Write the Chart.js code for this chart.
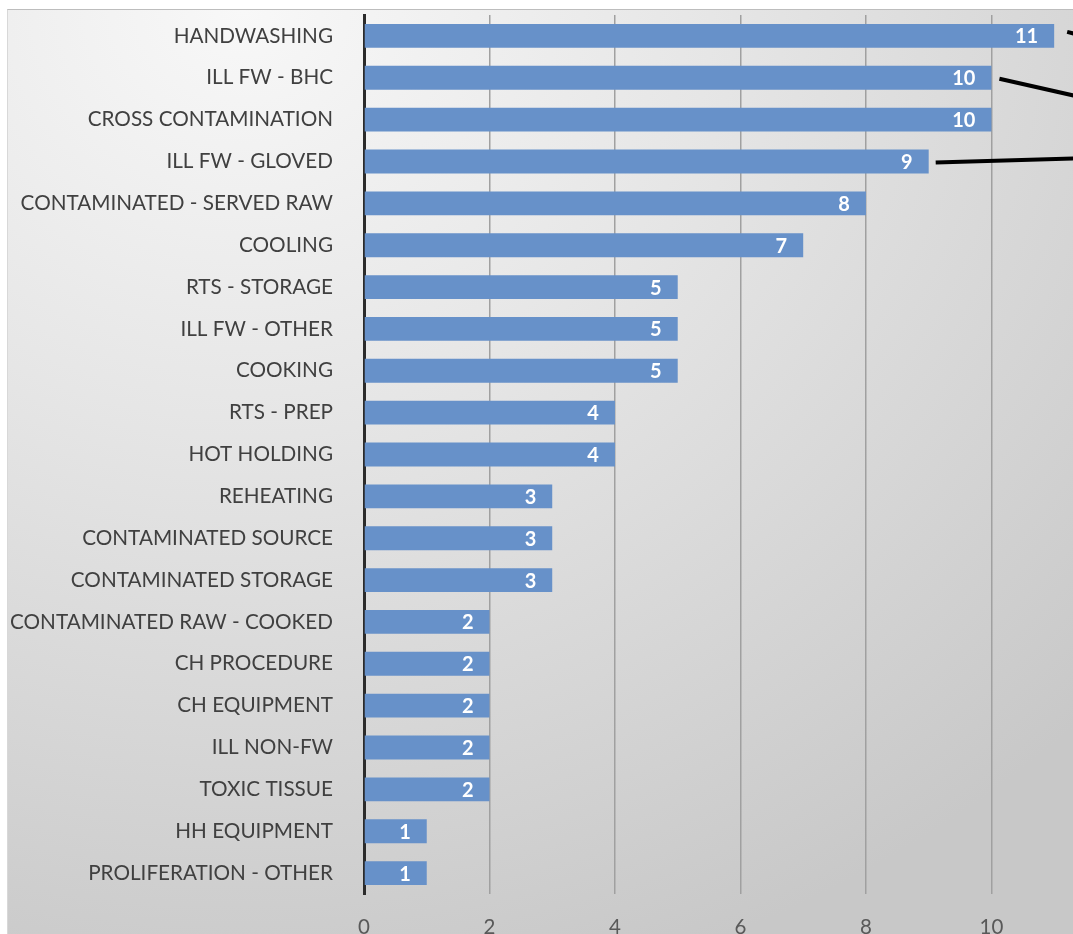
<!DOCTYPE html>
<html>
<head>
<meta charset="utf-8">
<script src="https://cdn.jsdelivr.net/npm/chart.js@4/dist/chart.umd.min.js"></script>
<style>
  html, body { margin: 0; padding: 0; background: #ffffff; width: 1073px; height: 934px; overflow: hidden; }
  #panel {
    position: absolute; left: 7px; top: 9px; width: 1066px; height: 925px;
    border-top: 1px solid #bdbdbd; border-left: 1px solid #d8d8d8;
    background: radial-gradient(ellipse 110% 110% at 22% 0%, #f8f8f8 0%, #e6e6e6 40%, #c8c8c8 100%);
  }
  #wrap { position: absolute; left: 0; top: 0; width: 1073px; height: 934px; }
</style>
</head>
<body>
<div id="panel"></div>
<div id="wrap"><canvas id="c"></canvas></div>
<script>
const categories = [
  "HANDWASHING", "ILL FW - BHC", "CROSS CONTAMINATION", "ILL FW - GLOVED",
  "CONTAMINATED - SERVED RAW", "COOLING", "RTS - STORAGE", "ILL FW - OTHER",
  "COOKING", "RTS - PREP", "HOT HOLDING", "REHEATING", "CONTAMINATED SOURCE",
  "CONTAMINATED STORAGE", "CONTAMINATED RAW - COOKED", "CH PROCEDURE",
  "CH EQUIPMENT", "ILL NON-FW", "TOXIC TISSUE", "HH EQUIPMENT", "PROLIFERATION - OTHER"
];
const counts = [11, 10, 10, 9, 8, 7, 5, 5, 5, 4, 4, 3, 3, 3, 2, 2, 2, 2, 2, 1, 1];
const xTickValues = [0, 2, 4, 6, 8, 10];

// connector lines that leave the picture on the right: bar index, start gap, start dy, end dy
const connectorBars = [0, 1, 3];
const connectorShape = [[13, -4, -2], [8, 1, 18], [7, 1, -3]];

Chart.defaults.font.family = "Lato, 'Open Sans', sans-serif";

const valueLabels = {
  id: 'valueLabels',
  afterDatasetsDraw(chart) {
    const ctx = chart.ctx;
    const meta = chart.getDatasetMeta(0);
    ctx.save();
    ctx.font = "bold 20px Lato, sans-serif";
    ctx.fillStyle = '#ffffff';
    ctx.textAlign = 'right';
    ctx.textBaseline = 'middle';
    meta.data.forEach((bar, i) => {
      ctx.fillText(String(counts[i]), bar.x - 16, bar.y + 1);
    });
    ctx.strokeStyle = '#000000';
    ctx.lineWidth = 4;
    connectorBars.forEach((bi, k) => {
      const bar = meta.data[bi];
      const s = connectorShape[k];
      ctx.beginPath();
      ctx.moveTo(bar.x + s[0], bar.y + s[1]);
      ctx.lineTo(chart.width + 2, bar.y + s[2]);
      ctx.stroke();
    });
    ctx.restore();
  }
};

new Chart(document.getElementById('c'), {
  type: 'bar',
  data: {
    labels: categories,
    datasets: [{
      data: counts,
      backgroundColor: '#6791c9',
      borderWidth: 0,
      barPercentage: 0.57,
      categoryPercentage: 1.0
    }]
  },
  options: {
    indexAxis: 'y',
    responsive: true,
    maintainAspectRatio: false,
    animation: false,
    layout: { padding: { top: 15, left: 0, right: 0, bottom: 0 } },
    plugins: { legend: { display: false }, tooltip: { enabled: false } },
    scales: {
      x: {
        min: 0, max: 11.3,
        afterBuildTicks(scale) { scale.ticks = xTickValues.map(v => ({ value: v })); },
        afterFit(scale) { scale.height = 40; scale.paddingLeft = 0; scale.paddingRight = 0; },
        grid: { color: '#a0a0a0', lineWidth: 1.5, drawTicks: false },
        border: { display: false },
        ticks: { color: '#595959', font: { size: 20.5 }, padding: 21 }
      },
      y: {
        afterFit(scale) { scale.width = 364; scale.paddingTop = 0; scale.paddingBottom = 0; },
        grid: { display: false, drawTicks: false },
        border: { display: true, color: '#2b2b2b', width: 3 },
        ticks: { color: '#404040', font: { size: 20.7 }, padding: 31, autoSkip: false }
      }
    }
  },
  plugins: [valueLabels]
});
</script>
</body>
</html>
